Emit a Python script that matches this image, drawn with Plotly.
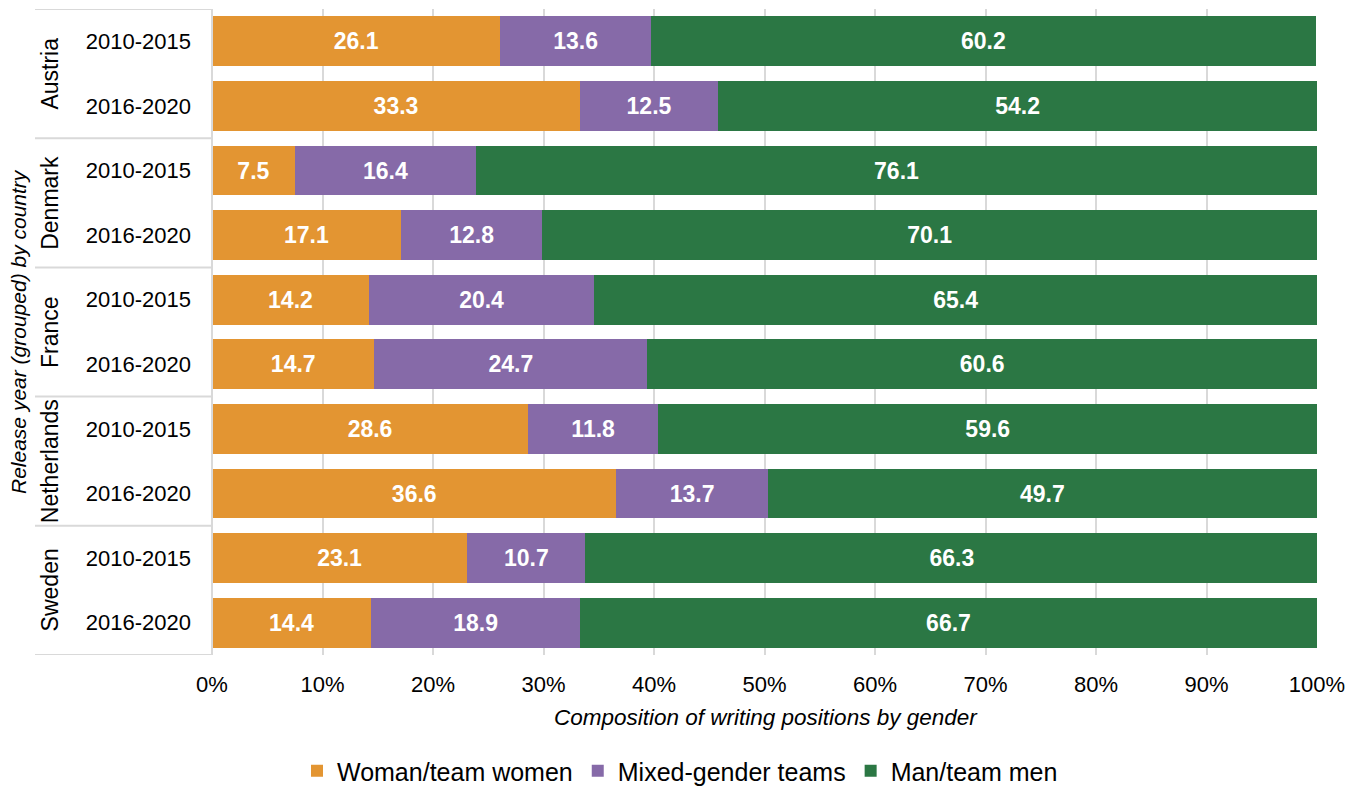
import plotly.graph_objects as go

countries = ["Austria", "Denmark", "France", "Netherlands", "Sweden"]
periods = ["2010-2015", "2016-2020"]
women = [26.1, 33.3, 7.5, 17.1, 14.2, 14.7, 28.6, 36.6, 23.1, 14.4]
mixed = [13.6, 12.5, 16.4, 12.8, 20.4, 24.7, 11.8, 13.7, 10.7, 18.9]
men = [60.2, 54.2, 76.1, 70.1, 65.4, 60.6, 59.6, 49.7, 66.3, 66.7]
series_names = ["Woman/team women", "Mixed-gender teams", "Man/team men"]
colors = ["#E39532", "#866AA8", "#2B7744"]
x_ticks = [0, 10, 20, 30, 40, 50, 60, 70, 80, 90, 100]

rows = list(range(len(countries) * len(periods)))
row_labels = [p for c in countries for p in periods]

FONT = "Liberation Sans, Arial, sans-serif"
OFF = 8  # browser body margin
W, H = 1363 - OFF, 787 - OFF
L, T = 212 - OFF, 9 - OFF
R = W - (1317 - OFF)
B = H - (655 - OFF)
pw = W - L - R
ph = H - T - B

fig = go.Figure()
for name, vals, col in zip(series_names, [women, mixed, men], colors):
    fig.add_trace(go.Bar(
        y=rows, x=vals, name=name, orientation="h",
        marker=dict(color=col, line=dict(width=0)),
        text=[f"{v:.1f}" for v in vals],
        textposition="inside", insidetextanchor="middle",
        textfont=dict(family=FONT, size=23, color="white", weight="bold"),
        constraintext="none",
        hoverinfo="skip",
    ))

shapes = []
sep_color = "#D9D9D9"
x_left = (35 - 212) / pw
for k in range(len(countries) + 1):
    yv = -0.5 + 2 * k
    shapes.append(dict(type="line", xref="paper", yref="y", x0=x_left, x1=0,
                       y0=yv, y1=yv, line=dict(color=sep_color, width=2)))
shapes.append(dict(type="line", xref="paper", yref="paper", x0=0, x1=0, y0=0, y1=1,
                   line=dict(color=sep_color, width=2)))

annotations = []
for i, c in enumerate(countries):
    annotations.append(dict(text=c, xref="paper", yref="y", x=(50 - 212) / pw, y=2 * i + 0.5,
                            textangle=-90, showarrow=False, xanchor="center", yanchor="middle",
                            font=dict(family=FONT, size=23, color="#000000")))
annotations.append(dict(text="<i>Release year (grouped) by country</i>", xref="paper", yref="paper",
                        x=(18 - 212) / pw, y=0.5, textangle=-90, showarrow=False,
                        xanchor="center", yanchor="middle",
                        font=dict(family=FONT, size=21, color="#000000")))
annotations.append(dict(text="<i>Composition of writing positions by gender</i>", xref="paper", yref="paper",
                        x=(766 - 212) / pw, y=-(717 - 655) / ph, showarrow=False,
                        xanchor="center", yanchor="middle",
                        font=dict(family=FONT, size=22.5, color="#000000")))

fig.update_layout(
    width=W, height=H,
    margin=dict(l=L, r=R, t=T, b=B),
    barmode="stack", bargap=0.23,
    plot_bgcolor="white", paper_bgcolor="white",
    font=dict(family=FONT, color="#000000"),
    showlegend=True,
    legend=dict(orientation="h", xref="container", yref="container",
                x=(680 - OFF) / W, xanchor="center", y=(787 - 771) / H, yanchor="middle",
                font=dict(family=FONT, size=25, color="#000000"),
                itemwidth=30, traceorder="normal"),
    shapes=shapes, annotations=annotations,
)
fig.update_xaxes(range=[0, 100], tickvals=x_ticks, ticktext=[f"{v}%" for v in x_ticks],
                 showgrid=True, gridcolor=sep_color, gridwidth=2, zeroline=False,
                 showline=False, ticks="", ticklabelstandoff=14,
                 tickfont=dict(family=FONT, size=22, color="#000000"))
fig.update_yaxes(range=[len(rows) - 0.5, -0.5], tickvals=rows, ticktext=row_labels,
                 showgrid=False, zeroline=False, showline=False, ticks="",
                 ticklabelstandoff=20,
                 tickfont=dict(family=FONT, size=22, color="#000000"))

fig.write_html("out.html")
